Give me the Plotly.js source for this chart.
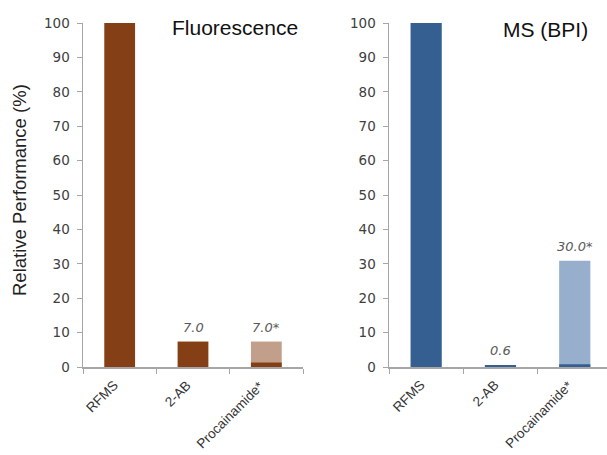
<!DOCTYPE html>
<html>
<head>
<meta charset="utf-8">
<script src="https://cdn.plot.ly/plotly-3.0.1.min.js"></script>
<style>html,body{margin:0;padding:0;background:#fff;}#chart{width:607px;height:455px;}</style>
</head>
<body>
<div id="chart"></div>
<script>
// ---- data ----
const categories = ["RFMS", "2-AB", "Procainamide*"];
const fluoTotal = [null, null, 7.4];      // light (total) portion
const fluoDark = [100, 7.4, 1.3];         // dark portion
const fluoLabels = ["", "7.0", "7.0*"];
const msTotal = [null, null, 30.9];
const msDark = [100, 0.6, 0.8];
const msLabels = ["", "0.6", "30.0*"];
const panelTitles = ["Fluorescence", "MS (BPI)"];
const yTitle = "Relative Performance (%)";

const brownDark = "#843f16", brownLight = "#c29f8b";
const blueDark = "#365f91", blueLight = "#98aecd";
const axisGray = "#a6a6a6";
const tickFont = {family: "DejaVu Sans", size: 13.5, color: "#404040"};
const catFont = {family: "Liberation Sans, Arial", size: 13.5, color: "#333"};

const barW = 0.42;
const traces = [
  {type: "bar", x: categories, y: fluoTotal, xaxis: "x", yaxis: "y", marker: {color: brownLight}, width: barW, hoverinfo: "skip"},
  {type: "bar", x: categories, y: fluoDark, xaxis: "x", yaxis: "y", marker: {color: brownDark}, width: barW, hoverinfo: "skip"},
  {type: "bar", x: categories, y: msTotal, xaxis: "x2", yaxis: "y2", marker: {color: blueLight}, width: barW, hoverinfo: "skip"},
  {type: "bar", x: categories, y: msDark, xaxis: "x2", yaxis: "y2", marker: {color: blueDark}, width: barW, hoverinfo: "skip"}
];

function topOf(a, b, i) { return Math.max(a[i] || 0, b[i] || 0); }
const annotations = [];
const valFont = {family: "DejaVu Sans", size: 13, color: "#595959"};
categories.forEach((c, i) => {
  if (fluoLabels[i]) annotations.push({xref: "x", yref: "y", x: c, y: topOf(fluoTotal, fluoDark, i), text: "<i>" + fluoLabels[i] + "</i>", showarrow: false, yanchor: "bottom", yshift: 5, font: valFont});
  if (msLabels[i]) annotations.push({xref: "x2", yref: "y2", x: c, y: topOf(msTotal, msDark, i), text: "<i>" + msLabels[i] + "</i>", showarrow: false, yanchor: "bottom", yshift: 5, font: valFont});
  // rotated category labels
  ["x", "x2"].forEach((xr, k) => {
    annotations.push({xref: xr, yref: k ? "y2" : "y", x: c, y: 0, text: c, showarrow: false, textangle: -45, xanchor: "right", yanchor: "top", xshift: 4, yshift: -8, font: catFont});
  });
});
annotations.push({xref: "paper", yref: "paper", x: 0.387, y: 0.94, text: panelTitles[0], showarrow: false, xanchor: "center", yanchor: "middle", font: {family: "Liberation Sans, Arial", size: 21, color: "#111"}});
annotations.push({xref: "paper", yref: "paper", x: 0.898, y: 0.935, text: panelTitles[1], showarrow: false, xanchor: "center", yanchor: "middle", font: {family: "Liberation Sans, Arial", size: 21, color: "#111"}});
annotations.push({xref: "paper", yref: "paper", x: 19/607, y: 1 - 190/455, text: yTitle, showarrow: false, textangle: -90, xanchor: "center", yanchor: "middle", font: {family: "Liberation Sans, Arial", size: 18.5, color: "#222"}});

function yAxis(anchor) {
  return {anchor: anchor, range: [0, 100], dtick: 10, showgrid: false, zeroline: false, showline: true, linecolor: axisGray, linewidth: 1.5, ticks: "outside", ticklen: 5, tickcolor: axisGray, tickfont: tickFont, ticklabelstandoff: 4, fixedrange: true, domain: [1 - 367/455, 1 - 23/455]};
}
function xAxis(anchor, domain, range) {
  return {anchor: anchor, domain: domain, range: range, type: "category", showgrid: false, zeroline: false, showline: true, linecolor: axisGray, linewidth: 1.5, ticks: "outside", tickson: "boundaries", ticklen: 5, tickcolor: axisGray, showticklabels: false, fixedrange: true};
}

const layout = {
  width: 607, height: 455,
  margin: {l: 0, r: 0, t: 0, b: 0},
  paper_bgcolor: "#fff", plot_bgcolor: "#fff",
  showlegend: false, barmode: "overlay",
  xaxis: xAxis("y", [83/607, 303/607], [-0.5, 2.5]),
  yaxis: yAxis("x"),
  xaxis2: xAxis("y2", [389/607, 1], [-0.5, 2.434]),
  yaxis2: yAxis("x2"),
  annotations: annotations
};
Plotly.newPlot("chart", traces, layout, {staticPlot: true});
</script>
</body>
</html>
